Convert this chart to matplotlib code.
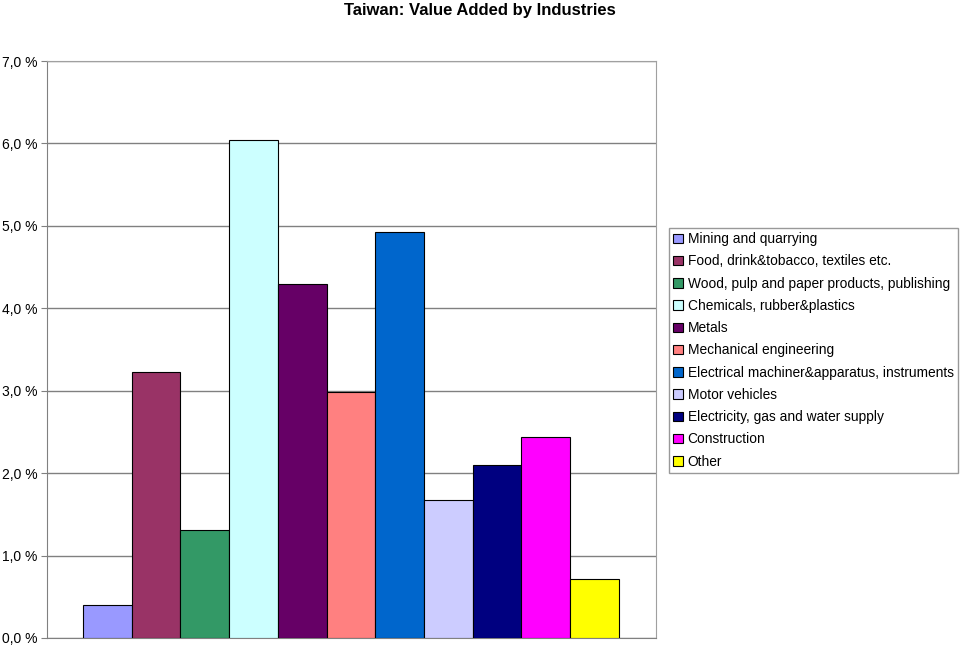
import matplotlib.pyplot as plt
from matplotlib.ticker import FuncFormatter

plt.rcParams['font.family'] = ['Liberation Sans', 'DejaVu Sans']

industries = ['Mining and quarrying',
              'Food, drink&tobacco, textiles etc.',
              'Wood, pulp and paper products, publishing',
              'Chemicals, rubber&plastics',
              'Metals',
              'Mechanical engineering',
              'Electrical machiner&apparatus, instruments',
              'Motor vehicles',
              'Electricity, gas and water supply',
              'Construction',
              'Other']
values = [0.40, 3.23, 1.31, 6.04, 4.30, 2.99, 4.93, 1.68, 2.10, 2.44, 0.72]
colors = ['#9999ff', '#993366', '#339966', '#ccffff', '#660066', '#ff8080',
          '#0066cc', '#ccccff', '#000080', '#ff00ff', '#ffff00']

fig = plt.figure(figsize=(9.6, 6.45), dpi=100)
ax = fig.add_axes([0.049, 0.0109, 0.634, 0.8945])

for i in range(len(values)):
    ax.bar(i, values[i], width=1.0, color=colors[i], edgecolor='black',
           linewidth=0.8, label=industries[i], zorder=3)

ax.set_xlim(-1.24, 11.26)
ax.set_ylim(0, 7)
ax.set_yticks(range(0, 8))
ax.yaxis.set_major_formatter(FuncFormatter(lambda v, p: ('%.1f %%' % v).replace('.', ',')))
ax.set_xticks([])
ax.tick_params(axis='y', length=4, color='#808080', labelsize=10, pad=3)
ax.grid(axis='y', color='#808080', linewidth=1, zorder=0)

ax.spines['left'].set_color('#808080')
ax.spines['bottom'].set_color('#808080')
ax.spines['right'].set_color('#a0a0a0')
ax.spines['top'].set_color('#a0a0a0')

fig.suptitle('Taiwan: Value Added by Industries', x=0.5, y=0.995,
             fontsize=12, fontweight='bold')

leg = fig.legend(loc='upper left', bbox_to_anchor=(0.697, 0.6465), fontsize=9.9,
                 frameon=True, fancybox=False, edgecolor='#808080',
                 handlelength=0.7, handleheight=0.7, handletextpad=0.35,
                 labelspacing=0.6, borderpad=0.3, borderaxespad=0)
leg.get_frame().set_linewidth(1)

plt.savefig('out.png', dpi=100)
